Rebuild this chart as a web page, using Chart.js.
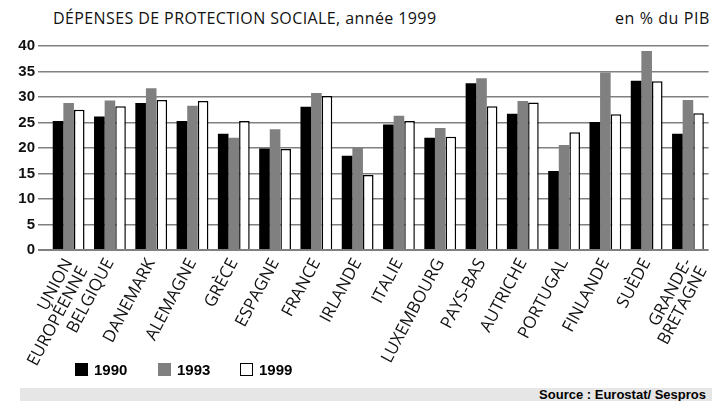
<!DOCTYPE html>
<html>
<head>
<meta charset="utf-8">
<script src="https://cdn.jsdelivr.net/npm/chart.js@4/dist/chart.umd.min.js"></script>
<style>
  html, body { margin: 0; padding: 0; background: #fff; }
  body { width: 712px; height: 401px; overflow: hidden; position: relative; }
  #wrap { position: absolute; left: 0; top: 0; width: 716px; height: 370px; }
  .title { position: absolute; top: 7px; left: 53px; font: 16px "Open Sans", sans-serif; letter-spacing: 0.4px; color: #111; }
  .unit { position: absolute; top: 7px; right: 2px; font: 16px "Open Sans", sans-serif; letter-spacing: 0.6px; color: #111; }
  .legend { position: absolute; top: 361px; left: 75px; font: bold 15px "Liberation Sans", Arial, sans-serif; }
  .legend span { position: absolute; white-space: nowrap; }
  .legend i { display: inline-block; width: 13px; height: 13px; vertical-align: -1px; margin-right: 6px; box-sizing: border-box; }
  .source { position: absolute; left: 20px; top: 388px; width: 692px; height: 13px; background: #e6e6e6;
            font: bold 13px "Liberation Sans", Arial, sans-serif; text-align: right; line-height: 14px; }
  .source b { margin-right: 6px; }
</style>
</head>
<body>
<div class="title">DÉPENSES DE PROTECTION SOCIALE, année 1999</div>
<div class="unit">en % du PIB</div>
<div id="wrap"><canvas id="chart" width="716" height="370"></canvas></div>
<div class="legend">
  <span style="left:0"><i style="background:#000"></i>1990</span>
  <span style="left:83px"><i style="background:#808080"></i>1993</span>
  <span style="left:165px"><i style="background:#fff;border:1.5px solid #000"></i>1999</span>
</div>
<div class="source"><b>Source : Eurostat/ Sespros</b></div>
<script>
(function () {
    // données
    const labels = [
        ['UNION', 'EUROPÉENNE'], 'BELGIQUE', 'DANEMARK', 'ALEMAGNE', 'GRÈCE', 'ESPAGNE',
        'FRANCE', 'IRLANDE', 'ITALIE', 'LUXEMBOURG', 'PAYS-BAS', 'AUTRICHE',
        'PORTUGAL', 'FINLANDE', 'SUÈDE', ['GRANDE-', 'BRETAGNE'],
    ];
    const v1990 = [25.3, 26.2, 28.8, 25.3, 22.8, 19.9, 28.1, 18.5, 24.6, 22.0, 32.7, 26.7, 15.5, 25.1, 33.2, 22.8];
    const v1993 = [28.8, 29.3, 31.7, 28.3, 22.0, 23.7, 30.8, 20.2, 26.3, 23.9, 33.7, 29.2, 20.6, 34.8, 39.0, 29.4];
    const v1999 = [27.5, 28.2, 29.4, 29.2, 25.3, 19.8, 30.2, 14.7, 25.3, 22.2, 28.2, 28.9, 23.1, 26.6, 33.1, 26.8];
    const yTicks = [0, 5, 10, 15, 20, 25, 30, 35, 40];

    const ctx = document.getElementById('chart').getContext('2d');
    new Chart(ctx, {
        type: 'bar',
        data: {
            labels: labels,
            datasets: [
                { label: '1990', data: v1990, backgroundColor: '#000', borderWidth: 0 },
                { label: '1993', data: v1993, backgroundColor: '#808080', borderWidth: 0 },
                { label: '1999', data: v1999, backgroundColor: '#fff', borderColor: '#000', borderWidth: 1.5, borderSkipped: 'bottom' },
            ],
        },
        options: {
            responsive: false,
            animation: false,
            layout: { padding: { top: 46, right: 1, left: 0, bottom: 0 } },
            datasets: { bar: { barPercentage: 1, categoryPercentage: 0.77 } },
            plugins: { legend: { display: false }, tooltip: { enabled: false } },
            scales: {
                x: {
                    grid: { display: false },
                    border: { display: false },
                    ticks: {
                        color: '#111',
                        font: { family: 'Open Sans', size: 17, lineHeight: 1.0 },
                        minRotation: 62,
                        maxRotation: 62,
                        autoSkip: false,
                        padding: -2,
                    },
                    afterFit: function (scale) { scale.height = 120; },
                },
                y: {
                    min: 0,
                    max: 40,
                    afterBuildTicks: function (scale) { scale.ticks = yTicks.map(v => ({ value: v })); },
                    border: { display: false },
                    grid: {
                        color: '#808080',
                        lineWidth: c => (c.tick && c.tick.value === 0 ? 2 : 1.5),
                        tickLength: 10,
                    },
                    ticks: {
                        color: '#111',
                        font: { family: 'Liberation Sans', size: 15, weight: 'bold' },
                        padding: 3,
                    },
                    afterFit: function (scale) { scale.width = 48; },
                },
            },
        },
    });
})();
</script>
</body>
</html>
